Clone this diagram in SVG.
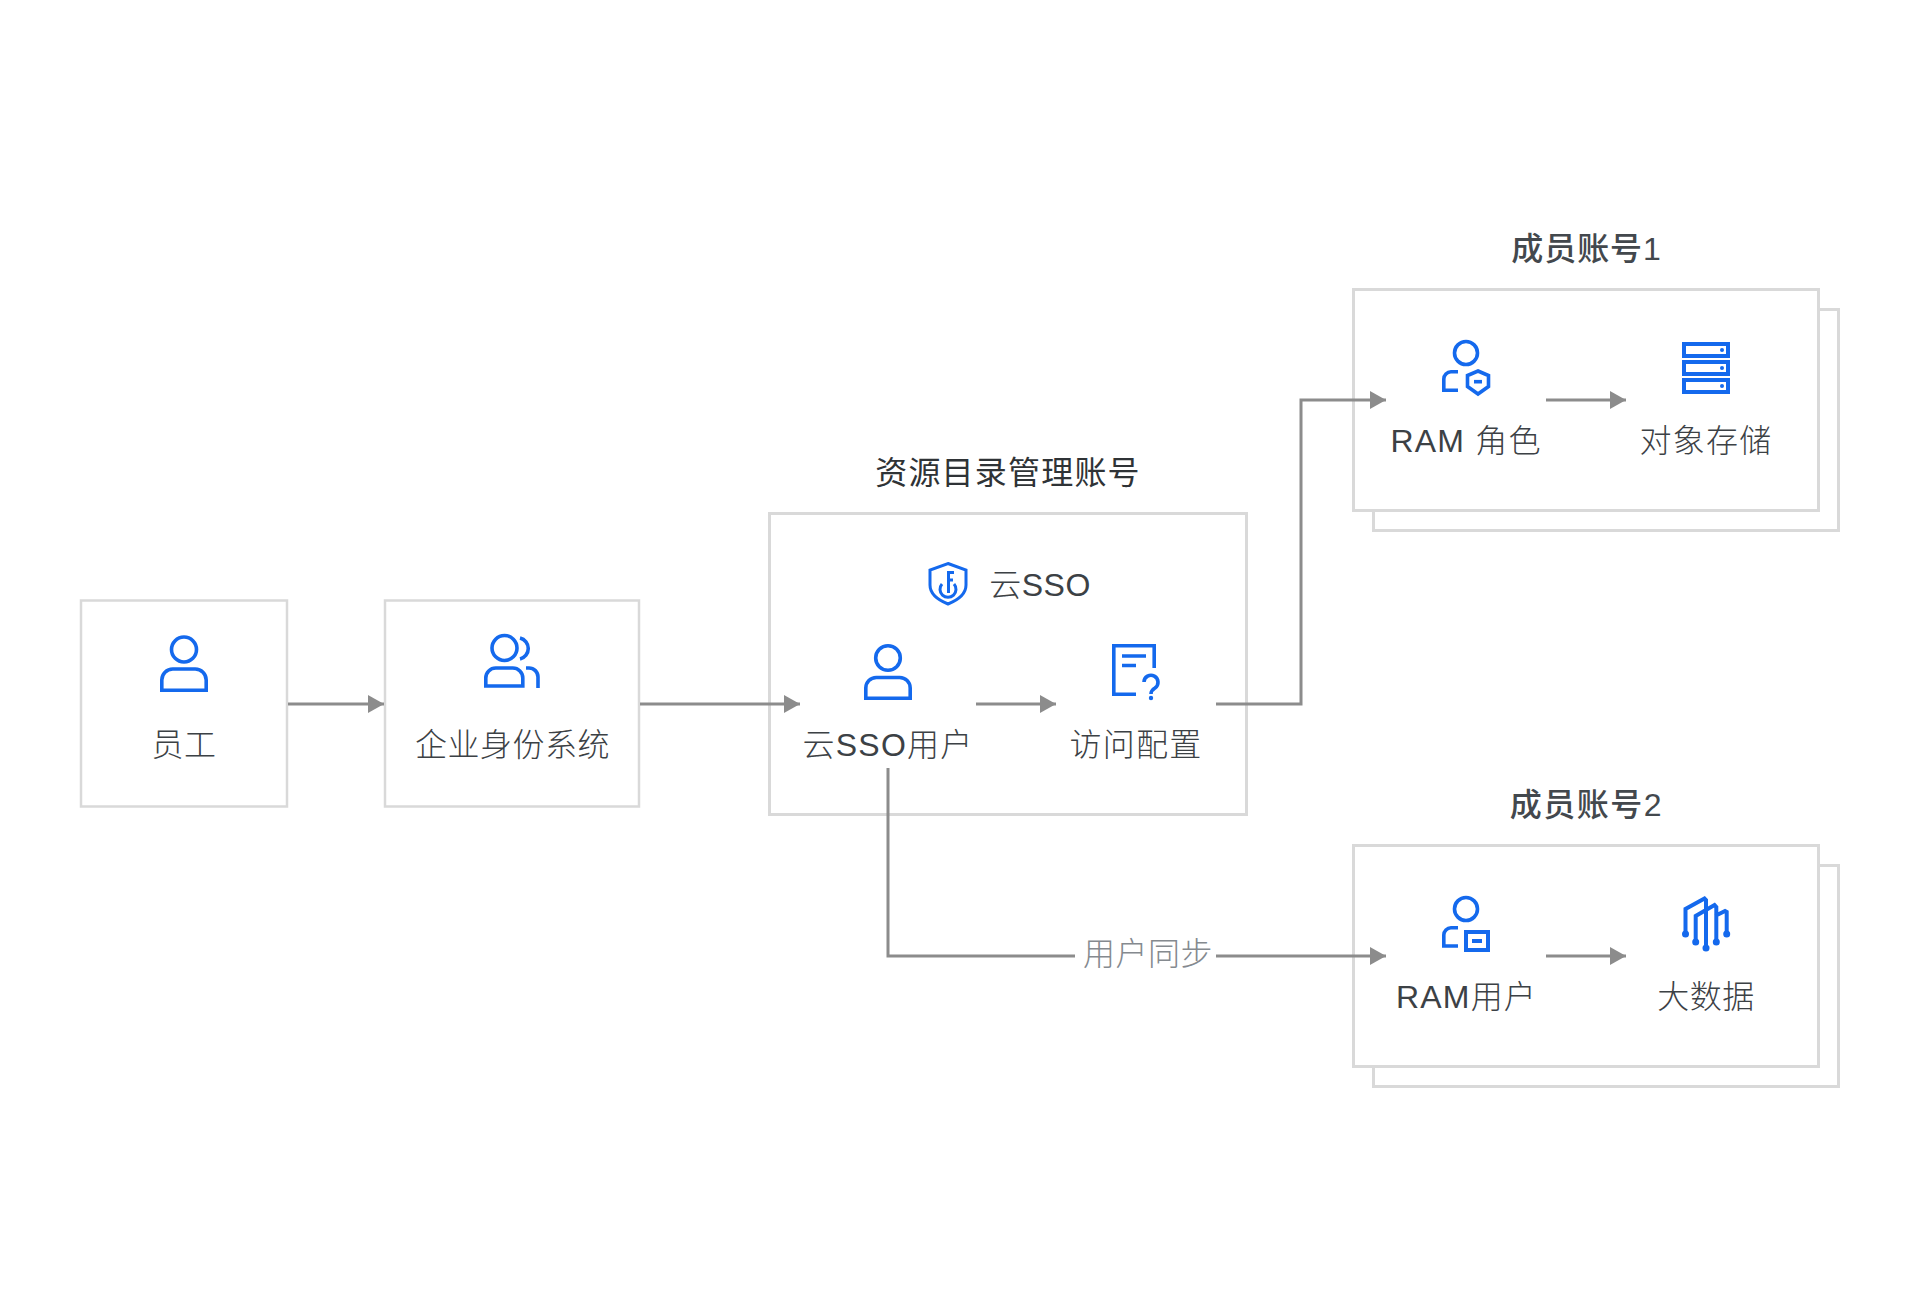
<svg xmlns="http://www.w3.org/2000/svg" width="1920" height="1312" viewBox="0 0 1920 1312">
<style>
text{font-family:"Liberation Sans","Noto Sans CJK SC",sans-serif;font-size:32px;fill:#3c4145;text-anchor:middle;letter-spacing:.5px;font-weight:300}
.title{font-weight:500;letter-spacing:.9px;fill:#43484d}
.main{fill:#2f3336;font-weight:400;letter-spacing:1.2px}
.wide{letter-spacing:1.2px}
.box{fill:#fff;stroke:#d9d9d9;stroke-width:3}
.thin{stroke-width:2.5}
.ic{fill:none;stroke:#1469ed;stroke-width:3.6}
.fillic{fill:#1469ed;stroke:none}
.conn{fill:none;stroke:#8c8c8c;stroke-width:3;marker-end:url(#arrow)}
.plain{fill:none;stroke:#8c8c8c;stroke-width:3}
</style>
<defs>
<marker id="arrow" markerUnits="userSpaceOnUse" markerWidth="16" markerHeight="18" refX="16" refY="9" orient="auto"><path d="M0 0L16 9L0 18z" fill="#8c8c8c"/></marker>
</defs>
<rect width="1920" height="1312" fill="#fff"/>
<g id="node-employee">
<rect class="box thin" x="81" y="600.5" width="206" height="206"/>
<circle class="ic" cx="184" cy="649.500" r="12.500"/>
<path class="ic" d="M161.800 690.200V680a11 11 0 0 1 11-11h22.400a11 11 0 0 1 11 11v10.200z"/>
<text x="184" y="756">员工</text>
</g>
<g id="node-idp">
<rect class="box thin" x="385" y="600.5" width="254" height="206"/>
<circle class="ic" cx="504.500" cy="648" r="12.500"/>
<path class="ic" d="M485.800 686V678a10 10 0 0 1 10-10h17a10 10 0 0 1 10 10v8z"/>
<path class="ic" d="M520 638a10.800 10.800 0 0 1 0 21M526 668h3a9 9 0 0 1 9 9v11"/>
<text x="512.500" y="756">企业身份系统</text>
</g>
<g id="node-master">
<text class="main" x="1008" y="484">资源目录管理账号</text>
<rect class="box" x="769.500" y="513.500" width="477" height="301"/>
<g id="icon-sso">
<path class="ic" style="stroke-width:3" d="M948 563.500L966 570V585C966 594 958 600 948 604C938 600 930 594 930 585V570z"/>
<path class="ic" style="stroke-width:3" d="M942 584a8 8 0 1 0 12 0M948.500 593V572.500H954M948.500 580H953"/>
<text x="1040" y="596">云SSO</text>
</g>
<g id="node-sso-user">
<circle class="ic" cx="888" cy="658" r="12.300"/>
<path class="ic" d="M865.800 698.200V688a10.500 10.500 0 0 1 10.500-10.500h23.400a10.500 10.500 0 0 1 10.500 10.500v10.200z"/>
<text class="wide" x="888" y="756">云SSO用户</text>
</g>
<g id="node-access">
<path class="ic" d="M1136 694.200H1113.800V645.800H1154.200V668"/>
<path class="ic" d="M1122 656H1146M1122 665.500H1136"/>
<path class="ic" d="M1144 682a7 7 0 1 1 11 6q-4 2.500-4 6"/>
<circle class="fillic" cx="1151" cy="698" r="2.200"/>
<text class="wide" x="1136" y="756">访问配置</text>
</g>
</g>
<g id="node-member1">
<text class="title" x="1586.500" y="260">成员账号1</text>
<rect class="box" x="1373.500" y="309.500" width="465" height="221"/>
<rect class="box" x="1353.500" y="289.500" width="465" height="221"/>
<g id="node-ram-role">
<circle class="ic" cx="1466" cy="353" r="11.500"/>
<path class="ic" d="M1458 371.800H1451a7.200 7.200 0 0 0-7.200 7.200v11.200H1458"/>
<path class="ic" d="M1478 371L1488.500 375.500V386.500L1478 394L1467.500 386.500V375.500z"/>
<path class="ic" d="M1474 381.700H1482"/>
<text class="wide" x="1466" y="452">RAM 角色</text>
</g>
<g id="node-oss">
<path class="ic" d="M1684 344h44v12h-44zM1684 362h44v12h-44zM1684 380h44v12h-44z" style="stroke-width:4"/>
<circle class="fillic" cx="1722" cy="350" r="2"/>
<circle class="fillic" cx="1722" cy="368" r="2"/>
<circle class="fillic" cx="1722" cy="386" r="2"/>
<text class="wide" x="1706" y="452">对象存储</text>
</g>
</g>
<g id="node-member2">
<text class="title" x="1586.500" y="816" style="letter-spacing:1.5px">成员账号2</text>
<rect class="box" x="1373.500" y="865.500" width="465" height="221"/>
<rect class="box" x="1353.500" y="845.500" width="465" height="221"/>
<g id="node-ram-user">
<circle class="ic" cx="1466" cy="909" r="11.500"/>
<path class="ic" d="M1458 927.800H1451a7.200 7.200 0 0 0-7.200 7.200v11H1458"/>
<path class="ic" style="stroke-width:4" d="M1466 932H1488V950H1466z"/>
<path class="ic" style="stroke-width:4" d="M1472 941H1482"/>
<text class="wide" x="1466.500" y="1008">RAM用户</text>
</g>
<g id="node-bigdata">
<path class="ic" style="stroke-width:4" d="M1685.500 934V909L1704.500 898.500L1706 900V948M1695.700 942V916L1714.500 905L1716.300 907V942M1715 916L1725 911L1726.700 912V934"/>
<circle class="fillic" cx="1685.500" cy="934" r="3.500"/>
<circle class="fillic" cx="1695.700" cy="942" r="3.500"/>
<circle class="fillic" cx="1706" cy="948" r="3.500"/>
<circle class="fillic" cx="1716.300" cy="942" r="3.500"/>
<circle class="fillic" cx="1726.700" cy="934" r="3.500"/>
<text x="1706" y="1008">大数据</text>
</g>
</g>
<g id="connectors">
<path class="conn" d="M288 704H384"/>
<path class="conn" d="M640 704H800"/>
<path class="conn" d="M976 704H1056"/>
<path class="conn" d="M1216 704H1301V400H1386"/>
<path class="conn" d="M1546 400H1626"/>
<path class="plain" d="M888 768V956H1075"/>
<path class="conn" d="M1216 956H1386"/>
<path class="conn" d="M1546 956H1626"/>
<text x="1148" y="964.500" style="fill:#858a8f">用户同步</text>
</g>
</svg>
